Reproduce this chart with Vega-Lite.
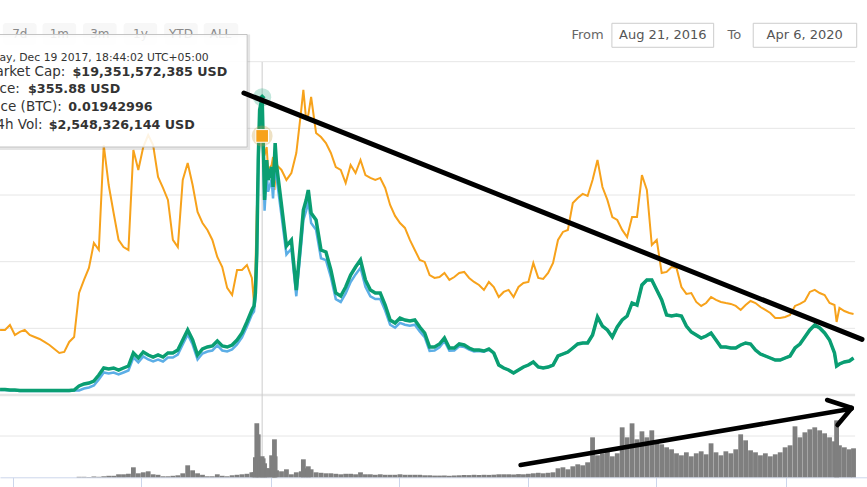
{
  "$schema": "https://vega.github.io/schema/vega-lite/v6.json",
  "width": 867,
  "height": 487,
  "autosize": {"type": "none"},
  "padding": 0,
  "background": "#ffffff",
  "config": {"view": {"stroke": null}, "text": {"font": "DejaVu Sans"}},
  "datasets": {
    "ltc": [
      {"date":"2016-12-13","btc":0.00488,"cap":0.358,"price":6.29,"vol":0},
      {"date":"2016-12-20","btc":0.00488,"cap":0.358,"price":6.29,"vol":0},
      {"date":"2016-12-27","btc":0.00525,"cap":0.325,"price":5.66,"vol":0},
      {"date":"2017-01-03","btc":0.0045,"cap":0.325,"price":5.66,"vol":0},
      {"date":"2017-01-10","btc":0.00473,"cap":0.293,"price":5.03,"vol":0},
      {"date":"2017-01-17","btc":0.00488,"cap":0.293,"price":5.03,"vol":0},
      {"date":"2017-01-24","btc":0.0045,"cap":0.293,"price":5.03,"vol":0},
      {"date":"2017-01-31","btc":0.00435,"cap":0.293,"price":5.03,"vol":0},
      {"date":"2017-02-07","btc":0.0042,"cap":0.293,"price":5.03,"vol":0},
      {"date":"2017-02-14","btc":0.00398,"cap":0.293,"price":5.03,"vol":0},
      {"date":"2017-02-21","btc":0.00375,"cap":0.293,"price":5.03,"vol":0},
      {"date":"2017-02-28","btc":0.00345,"cap":0.293,"price":5.03,"vol":0},
      {"date":"2017-03-07","btc":0.00315,"cap":0.293,"price":5.03,"vol":0},
      {"date":"2017-03-14","btc":0.00323,"cap":0.293,"price":5.03,"vol":0},
      {"date":"2017-03-21","btc":0.00398,"cap":0.293,"price":5.03,"vol":0},
      {"date":"2017-03-28","btc":0.00435,"cap":0.325,"price":5.66,"vol":0},
      {"date":"2017-04-04","btc":0.00765,"cap":0.585,"price":5.66,"vol":0.06},
      {"date":"2017-04-11","btc":0.00863,"cap":0.715,"price":8.17,"vol":0.06},
      {"date":"2017-04-18","btc":0.00953,"cap":0.78,"price":9.43,"vol":0.036},
      {"date":"2017-04-25","btc":0.0114,"cap":0.91,"price":11.95,"vol":0.097},
      {"date":"2017-05-02","btc":0.01088,"cap":1.3,"price":19.49,"vol":0.06},
      {"date":"2017-05-09","btc":0.01875,"cap":1.755,"price":28.29,"vol":0.121},
      {"date":"2017-05-16","btc":0.01575,"cap":1.69,"price":27.04,"vol":0.182},
      {"date":"2017-05-23","btc":0.01365,"cap":1.755,"price":28.29,"vol":0.182},
      {"date":"2017-05-30","btc":0.01163,"cap":1.625,"price":25.78,"vol":0.363},
      {"date":"2017-06-06","btc":0.0111,"cap":1.755,"price":28.29,"vol":0.363},
      {"date":"2017-06-13","btc":0.01088,"cap":1.885,"price":30.81,"vol":0.424},
      {"date":"2017-06-20","btc":0.01838,"cap":2.73,"price":47.16,"vol":1.21},
      {"date":"2017-06-27","btc":0.01688,"cap":2.405,"price":40.87,"vol":0.484},
      {"date":"2017-07-04","btc":0.0186,"cap":2.795,"price":48.41,"vol":0.605},
      {"date":"2017-07-11","btc":0.0195,"cap":2.6,"price":44.64,"vol":0.726},
      {"date":"2017-07-18","btc":0.01875,"cap":2.47,"price":42.13,"vol":0.363},
      {"date":"2017-07-25","btc":0.01635,"cap":2.6,"price":44.64,"vol":0.303},
      {"date":"2017-08-01","btc":0.01553,"cap":2.47,"price":42.13,"vol":0.121},
      {"date":"2017-08-08","btc":0.01463,"cap":2.73,"price":47.16,"vol":0.121},
      {"date":"2017-08-15","btc":0.01163,"cap":2.73,"price":47.16,"vol":0.182},
      {"date":"2017-08-22","btc":0.0111,"cap":2.925,"price":50.93,"vol":0.242},
      {"date":"2017-08-29","btc":0.01613,"cap":3.575,"price":63.5,"vol":0.484},
      {"date":"2017-09-05","btc":0.0174,"cap":4.225,"price":76.08,"vol":1.452},
      {"date":"2017-09-12","btc":0.01575,"cap":3.575,"price":63.5,"vol":0.847},
      {"date":"2017-09-19","btc":0.01373,"cap":2.6,"price":44.64,"vol":0.484},
      {"date":"2017-09-26","btc":0.0129,"cap":2.99,"price":52.19,"vol":0.303},
      {"date":"2017-10-03","btc":0.01238,"cap":3.12,"price":54.7,"vol":0.121},
      {"date":"2017-10-10","btc":0.01163,"cap":3.185,"price":55.96,"vol":0.121},
      {"date":"2017-10-17","btc":0.01035,"cap":3.51,"price":62.25,"vol":0.363},
      {"date":"2017-10-24","btc":0.0096,"cap":3.185,"price":55.96,"vol":0.182},
      {"date":"2017-10-31","btc":0.00803,"cap":3.12,"price":54.7,"vol":0.121},
      {"date":"2017-11-07","btc":0.0075,"cap":3.25,"price":57.22,"vol":0.242},
      {"date":"2017-11-14","btc":0.00938,"cap":3.575,"price":63.5,"vol":0.303},
      {"date":"2017-11-21","btc":0.00938,"cap":4.03,"price":72.31,"vol":0.363},
      {"date":"2017-11-28","btc":0.00975,"cap":4.745,"price":86.14,"vol":0.424},
      {"date":"2017-12-05","btc":0.00878,"cap":5.525,"price":101.23,"vol":0.605},
      {"date":"2017-12-08","btc":0.0069,"cap":5.785,"price":105.06,"vol":0.605},
      {"date":"2017-12-10","btc":0.00938,"cap":6.63,"price":120.6,"vol":2.42},
      {"date":"2017-12-12","btc":0.01388,"cap":9.23,"price":168.38,"vol":6.534},
      {"date":"2017-12-14","btc":0.01725,"cap":15.275,"price":279.48,"vol":5.203},
      {"date":"2017-12-16","btc":0.01913,"cap":18.525,"price":339.21,"vol":2.057},
      {"date":"2017-12-19T13:44:02Z","btc":0.01942996,"cap":19.351572385,"price":355.88,"vol":2.548326144},
      {"date":"2017-12-21","btc":0.01778,"cap":16.575,"price":303.37,"vol":2.299},
      {"date":"2017-12-23","btc":0.018,"cap":12.675,"price":231.69,"vol":1.694},
      {"date":"2017-12-26","btc":0.0186,"cap":15.275,"price":279.48,"vol":1.089},
      {"date":"2017-12-28","btc":0.01688,"cap":13.975,"price":255.59,"vol":1.089},
      {"date":"2018-01-02","btc":0.01725,"cap":14.82,"price":271.12,"vol":2.662},
      {"date":"2018-01-04","btc":0.01785,"cap":13.52,"price":247.22,"vol":1.452},
      {"date":"2018-01-06","btc":0.01538,"cap":15.275,"price":279.48,"vol":4.598},
      {"date":"2018-01-07","btc":0.01613,"cap":16.38,"price":299.79,"vol":2.541},
      {"date":"2018-01-09","btc":0.01725,"cap":14.95,"price":273.51,"vol":0.847},
      {"date":"2018-01-16","btc":0.01688,"cap":12.35,"price":225.72,"vol":0.726},
      {"date":"2018-01-23","btc":0.01613,"cap":9.685,"price":176.74,"vol":0.968},
      {"date":"2018-01-30","btc":0.01665,"cap":10.075,"price":183.91,"vol":0.363},
      {"date":"2018-02-06","btc":0.01815,"cap":6.825,"price":124.18,"vol":0.605},
      {"date":"2018-02-13","btc":0.02138,"cap":10.4,"price":189.88,"vol":0.726},
      {"date":"2018-02-16","btc":0.02288,"cap":12.025,"price":219.75,"vol":2.178},
      {"date":"2018-02-20","btc":0.02063,"cap":12.675,"price":231.69,"vol":1.089},
      {"date":"2018-02-23","btc":0.021,"cap":13.325,"price":243.64,"vol":1.331},
      {"date":"2018-02-27","btc":0.02235,"cap":11.83,"price":216.16,"vol":0.968},
      {"date":"2018-03-06","btc":0.01965,"cap":11.375,"price":207.8,"vol":0.605},
      {"date":"2018-03-13","btc":0.01935,"cap":9.425,"price":171.96,"vol":0.545},
      {"date":"2018-03-20","btc":0.0189,"cap":9.295,"price":169.57,"vol":0.484},
      {"date":"2018-03-27","btc":0.01815,"cap":8.125,"price":148.07,"vol":0.484},
      {"date":"2018-04-03","btc":0.0171,"cap":6.63,"price":120.6,"vol":0.424},
      {"date":"2018-04-10","btc":0.01688,"cap":6.435,"price":117.01,"vol":0.363},
      {"date":"2018-04-17","btc":0.0159,"cap":7.02,"price":127.76,"vol":0.424},
      {"date":"2018-04-24","btc":0.01725,"cap":7.8,"price":142.1,"vol":0.424},
      {"date":"2018-05-01","btc":0.01665,"cap":8.32,"price":151.65,"vol":0.363},
      {"date":"2018-05-08","btc":0.01763,"cap":8.775,"price":160.02,"vol":0.605},
      {"date":"2018-05-15","btc":0.0165,"cap":7.475,"price":136.12,"vol":0.363},
      {"date":"2018-05-22","btc":0.01628,"cap":6.825,"price":124.18,"vol":0.363},
      {"date":"2018-05-29","btc":0.01613,"cap":6.63,"price":120.6,"vol":0.303},
      {"date":"2018-06-05","btc":0.01628,"cap":6.63,"price":120.6,"vol":0.363},
      {"date":"2018-06-12","btc":0.01553,"cap":5.85,"price":106.26,"vol":0.303},
      {"date":"2018-06-19","btc":0.01425,"cap":4.875,"price":88.34,"vol":0.303},
      {"date":"2018-06-26","btc":0.01343,"cap":4.68,"price":84.76,"vol":0.303},
      {"date":"2018-07-03","btc":0.0129,"cap":5.005,"price":90.73,"vol":0.363},
      {"date":"2018-07-10","btc":0.01253,"cap":4.875,"price":88.34,"vol":0.303},
      {"date":"2018-07-17","btc":0.01163,"cap":4.81,"price":87.14,"vol":0.303},
      {"date":"2018-07-24","btc":0.01088,"cap":4.875,"price":88.34,"vol":0.303},
      {"date":"2018-07-31","btc":0.01013,"cap":4.42,"price":79.98,"vol":0.303},
      {"date":"2018-08-07","btc":0.00998,"cap":4.03,"price":72.81,"vol":0.242},
      {"date":"2018-08-14","btc":0.009,"cap":3.12,"price":55.52,"vol":0.242},
      {"date":"2018-08-21","btc":0.00878,"cap":3.12,"price":55.83,"vol":0.206},
      {"date":"2018-08-28","btc":0.00885,"cap":3.315,"price":59.98,"vol":0.206},
      {"date":"2018-09-04","btc":0.00915,"cap":3.705,"price":67.91,"vol":0.218},
      {"date":"2018-09-11","btc":0.00863,"cap":3.055,"price":55.64,"vol":0.182},
      {"date":"2018-09-18","btc":0.00885,"cap":3.055,"price":55.96,"vol":0.218},
      {"date":"2018-09-25","btc":0.00915,"cap":3.315,"price":61.37,"vol":0.242},
      {"date":"2018-10-02","btc":0.00923,"cap":3.25,"price":60.49,"vol":0.278},
      {"date":"2018-10-09","btc":0.00878,"cap":3.055,"price":57.03,"vol":0.266},
      {"date":"2018-10-16","btc":0.00848,"cap":2.925,"price":54.83,"vol":0.303},
      {"date":"2018-10-23","btc":0.00825,"cap":2.925,"price":55.2,"vol":0.278},
      {"date":"2018-10-30","btc":0.00788,"cap":2.86,"price":54.32,"vol":0.303},
      {"date":"2018-11-06","btc":0.00848,"cap":2.99,"price":57.15,"vol":0.29},
      {"date":"2018-11-13","btc":0.0081,"cap":2.73,"price":52.44,"vol":0.315},
      {"date":"2018-11-20","btc":0.00735,"cap":1.95,"price":37.72,"vol":0.363},
      {"date":"2018-11-27","btc":0.00773,"cap":1.755,"price":33.95,"vol":0.363},
      {"date":"2018-12-04","btc":0.00788,"cap":1.625,"price":31.44,"vol":0.363},
      {"date":"2018-12-11","btc":0.00735,"cap":1.43,"price":27.66,"vol":0.339},
      {"date":"2018-12-18","btc":0.0081,"cap":1.625,"price":31.44,"vol":0.387},
      {"date":"2018-12-25","btc":0.0084,"cap":1.82,"price":35.21,"vol":0.363},
      {"date":"2019-01-01","btc":0.00848,"cap":1.95,"price":37.72,"vol":0.424},
      {"date":"2019-01-08","btc":0.0099,"cap":2.145,"price":41.5,"vol":0.484},
      {"date":"2019-01-15","btc":0.00878,"cap":1.82,"price":35.21,"vol":0.545},
      {"date":"2019-01-22","btc":0.0087,"cap":1.755,"price":33.95,"vol":0.484},
      {"date":"2019-01-29","btc":0.00915,"cap":1.82,"price":35.21,"vol":0.545},
      {"date":"2019-02-05","btc":0.0099,"cap":1.95,"price":37.72,"vol":0.605},
      {"date":"2019-02-12","btc":0.01163,"cap":2.535,"price":49.04,"vol":1.089},
      {"date":"2019-02-19","btc":0.01223,"cap":2.665,"price":51.56,"vol":1.21},
      {"date":"2019-02-26","btc":0.01238,"cap":2.795,"price":54.07,"vol":0.968},
      {"date":"2019-03-05","btc":0.0144,"cap":3.055,"price":59.1,"vol":1.331},
      {"date":"2019-03-12","btc":0.01478,"cap":3.315,"price":64.13,"vol":1.573},
      {"date":"2019-03-19","btc":0.01508,"cap":3.38,"price":65.39,"vol":1.452},
      {"date":"2019-03-26","btc":0.01493,"cap":3.38,"price":65.39,"vol":1.815},
      {"date":"2019-04-02","btc":0.01613,"cap":3.9,"price":75.45,"vol":4.84},
      {"date":"2019-04-09","btc":0.01763,"cap":5.07,"price":98.08,"vol":2.662},
      {"date":"2019-04-16","btc":0.0156,"cap":4.485,"price":86.77,"vol":2.904},
      {"date":"2019-04-23","btc":0.01463,"cap":4.225,"price":81.74,"vol":3.146},
      {"date":"2019-04-30","btc":0.01335,"cap":3.77,"price":72.93,"vol":2.541},
      {"date":"2019-05-07","btc":0.01313,"cap":4.42,"price":85.51,"vol":2.904},
      {"date":"2019-05-14","btc":0.01238,"cap":4.875,"price":94.31,"vol":6.05},
      {"date":"2019-05-21","btc":0.01185,"cap":5.135,"price":99.34,"vol":4.84},
      {"date":"2019-05-28","btc":0.01335,"cap":5.98,"price":115.69,"vol":6.534},
      {"date":"2019-06-04","btc":0.01335,"cap":5.85,"price":113.17,"vol":4.598},
      {"date":"2019-06-11","btc":0.0165,"cap":7.15,"price":138.32,"vol":5.566},
      {"date":"2019-06-18","btc":0.01538,"cap":7.475,"price":144.61,"vol":4.84},
      {"date":"2019-06-25","btc":0.01125,"cap":7.475,"price":144.61,"vol":5.687},
      {"date":"2019-07-02","btc":0.01163,"cap":6.825,"price":132.04,"vol":4.356},
      {"date":"2019-07-09","btc":0.00915,"cap":6.175,"price":119.46,"vol":3.993},
      {"date":"2019-07-16","btc":0.00923,"cap":5.2,"price":100.6,"vol":3.63},
      {"date":"2019-07-23","btc":0.0096,"cap":5.135,"price":99.34,"vol":3.388},
      {"date":"2019-07-30","btc":0.00953,"cap":5.2,"price":100.6,"vol":2.904},
      {"date":"2019-08-06","btc":0.0081,"cap":5.135,"price":99.34,"vol":2.662},
      {"date":"2019-08-13","btc":0.00758,"cap":4.485,"price":86.77,"vol":3.025},
      {"date":"2019-08-20","btc":0.00765,"cap":4.095,"price":79.22,"vol":2.541},
      {"date":"2019-08-27","btc":0.00698,"cap":3.9,"price":75.45,"vol":2.904},
      {"date":"2019-09-03","btc":0.00668,"cap":3.705,"price":71.67,"vol":3.146},
      {"date":"2019-09-10","btc":0.0069,"cap":3.835,"price":74.19,"vol":2.783},
      {"date":"2019-09-17","btc":0.00735,"cap":4.03,"price":77.96,"vol":4.114},
      {"date":"2019-09-24","btc":0.00713,"cap":3.575,"price":69.16,"vol":3.025},
      {"date":"2019-10-01","btc":0.00698,"cap":3.12,"price":60.36,"vol":2.662},
      {"date":"2019-10-08","btc":0.0069,"cap":3.12,"price":60.36,"vol":3.146},
      {"date":"2019-10-15","btc":0.00683,"cap":3.055,"price":59.1,"vol":2.904},
      {"date":"2019-10-22","btc":0.00668,"cap":3.055,"price":59.1,"vol":3.388},
      {"date":"2019-10-29","btc":0.00638,"cap":3.25,"price":62.87,"vol":5.203},
      {"date":"2019-11-05","btc":0.00675,"cap":3.38,"price":65.39,"vol":4.477},
      {"date":"2019-11-12","btc":0.00705,"cap":3.315,"price":64.13,"vol":3.267},
      {"date":"2019-11-19","btc":0.0069,"cap":2.925,"price":56.59,"vol":3.025},
      {"date":"2019-11-26","btc":0.0066,"cap":2.665,"price":51.56,"vol":2.662},
      {"date":"2019-12-03","btc":0.00638,"cap":2.535,"price":49.04,"vol":2.904},
      {"date":"2019-12-10","btc":0.00615,"cap":2.405,"price":46.53,"vol":2.541},
      {"date":"2019-12-17","btc":0.00578,"cap":2.275,"price":44.01,"vol":2.783},
      {"date":"2019-12-24","btc":0.00578,"cap":2.275,"price":44.01,"vol":3.025},
      {"date":"2019-12-31","btc":0.00585,"cap":2.405,"price":46.53,"vol":3.63},
      {"date":"2020-01-07","btc":0.006,"cap":2.535,"price":49.04,"vol":3.872},
      {"date":"2020-01-14","btc":0.00668,"cap":3.055,"price":59.1,"vol":6.171},
      {"date":"2020-01-21","btc":0.00683,"cap":3.315,"price":64.13,"vol":4.84},
      {"date":"2020-01-28","btc":0.00705,"cap":3.77,"price":72.93,"vol":5.445},
      {"date":"2020-02-04","btc":0.00773,"cap":4.225,"price":81.74,"vol":5.808},
      {"date":"2020-02-11","btc":0.00788,"cap":4.55,"price":88.02,"vol":6.05},
      {"date":"2020-02-18","btc":0.00765,"cap":4.355,"price":84.25,"vol":5.687},
      {"date":"2020-02-25","btc":0.0075,"cap":4.03,"price":77.96,"vol":5.324},
      {"date":"2020-03-03","btc":0.0069,"cap":3.575,"price":69.16,"vol":4.84},
      {"date":"2020-03-10","btc":0.00675,"cap":2.73,"price":52.81,"vol":4.356},
      {"date":"2020-03-13","btc":0.00548,"cap":1.885,"price":36.47,"vol":6.897},
      {"date":"2020-03-17","btc":0.00653,"cap":2.015,"price":38.98,"vol":3.872},
      {"date":"2020-03-24","btc":0.0063,"cap":2.145,"price":41.5,"vol":3.63},
      {"date":"2020-03-31","btc":0.00615,"cap":2.21,"price":42.75,"vol":3.388},
      {"date":"2020-04-06","btc":0.00608,"cap":2.405,"price":46.53,"vol":3.509}
    ],
    "hover": [{"date":"2017-12-19T13:44:02Z","btc":0.01942996,"cap":19.351572385,"price":355.88,"vol":2.548326144}],
    "grid": [
      {"date":"2016-12-01","date2":"2020-04-08T05:00:00Z","btc":0},
      {"date":"2016-12-01","date2":"2020-04-08T05:00:00Z","btc":0.005},
      {"date":"2016-12-01","date2":"2020-04-08T05:00:00Z","btc":0.01},
      {"date":"2016-12-01","date2":"2020-04-08T05:00:00Z","btc":0.015},
      {"date":"2016-12-01","date2":"2020-04-08T05:00:00Z","btc":0.02},
      {"date":"2016-12-01","date2":"2020-04-08T05:00:00Z","btc":0.025}
    ],
    "vgrid": [{"date":"2016-12-01","date2":"2020-04-08T05:00:00Z","vol":5}],
    "buttons": [
      {"label":"7d","date":"2016-12-17","date2":"2017-02-02T19:00:00Z"},
      {"label":"1m","date":"2017-02-11T06:00:00Z","date2":"2017-03-30T22:00:00Z"},
      {"label":"3m","date":"2017-04-09T17:00:00Z","date2":"2017-05-27T07:00:00Z"},
      {"label":"1y","date":"2017-06-06T05:00:00Z","date2":"2017-07-23T19:00:00Z"},
      {"label":"YTD","date":"2017-08-02T14:00:00Z","date2":"2017-09-19T07:00:00Z"},
      {"label":"ALL","date":"2017-09-27T17:00:00Z","date2":"2017-11-15T17:00:00Z"}
    ],
    "buttonLabels": [
      {"label":"7d","date":"2017-01-10"},
      {"label":"1m","date":"2017-03-07T02:00:00Z"},
      {"label":"3m","date":"2017-05-03T12:00:00Z"},
      {"label":"1y","date":"2017-06-30"},
      {"label":"YTD","date":"2017-08-26T10:00:00Z"},
      {"label":"ALL","date":"2017-10-21T12:00:00Z"}
    ],
    "tipBox": [{"date":"2016-12-01","date2":"2017-11-28T07:00:00Z"}],
    "tipShadow": [{"date":"2016-12-01","date2":"2017-11-30T10:00:00Z"}],
    "tipHeader": [{"text":"Tuesday, Dec 19 2017, 18:44:02 UTC+05:00","date":"2017-10-04T17:00:00Z","btc":0.025298}],
    "tipLabels": [
      {"text":"Market Cap:","date":"2017-03-15T12:00:00Z","btc":0.024203},
      {"text":"Price:","date":"2017-01-10","btc":0.022928},
      {"text":"Price (BTC):","date":"2017-03-10T14:00:00Z","btc":0.0216},
      {"text":"24h Vol:","date":"2017-02-11T06:00:00Z","btc":0.02025}
    ],
    "tipValues": [
      {"text":"$19,351,572,385 USD","date":"2017-03-25T17:00:00Z","btc":0.024203},
      {"text":"$355.88 USD","date":"2017-01-21T16:00:00Z","btc":0.022928},
      {"text":"0.01942996","date":"2017-03-19T17:00:00Z","btc":0.0216},
      {"text":"$2,548,326,144 USD","date":"2017-02-20T02:00:00Z","btc":0.02025}
    ],
    "rangeBoxes": [
      {"date":"2019-04-29T10:00:00Z","date2":"2019-09-20T17:00:00Z"},
      {"date":"2019-11-15T19:00:00Z","date2":"2020-04-10T12:00:00Z"}
    ],
    "rangeLabels": [
      {"text":"From","date":"2019-03-03"},
      {"text":"To","date":"2019-10-10T10:00:00Z"}
    ],
    "rangeValues": [
      {"text":"Aug 21, 2016","date":"2019-07-10T14:00:00Z"},
      {"text":"Apr 6, 2020","date":"2020-01-27T17:00:00Z"}
    ],
    "trend": [{"date":"2017-11-23T17:00:00Z","date2":"2020-04-18","btc":0.02265,"btc2":0.00417}],
    "arrow": [
      {"date":"2018-12-21","date2":"2020-04-03T00:00:00Z","vol":1.489,"vol2":8.3},
      {"date":"2020-02-28T12:00:00Z","date2":"2020-04-03T12:00:00Z","vol":9.358,"vol2":8.39},
      {"date":"2020-04-03T12:00:00Z","date2":"2020-03-14T07:00:00Z","vol":8.39,"vol2":6.332}
    ]
  },
  "encoding": {
    "x": {
      "field": "date",
      "type": "temporal",
      "scale": {"domain": [{"year":2016,"month":12,"date":20,"utc":true},{"year":2020,"month":4,"date":18,"utc":true}]},
      "axis": {
        "orient": "bottom",
        "offset": -9.7,
        "values": [
          {"year":2017,"month":1,"date":1,"utc":true},
          {"year":2017,"month":7,"date":1,"utc":true},
          {"year":2018,"month":1,"date":1,"utc":true},
          {"year":2018,"month":7,"date":1,"utc":true},
          {"year":2019,"month":1,"date":1,"utc":true},
          {"year":2019,"month":7,"date":1,"utc":true},
          {"year":2020,"month":1,"date":1,"utc":true}
        ],
        "labels": false,
        "title": null,
        "grid": false,
        "tickSize": 10,
        "tickColor": "#ccd6eb",
        "tickWidth": 1,
        "domainColor": "#ccd6eb",
        "domainWidth": 1
      }
    }
  },
  "layer": [
    {
      "data": {"name": "grid"},
      "mark": {"type": "rule", "color": "#e6e6e6", "clip": true},
      "encoding": {
        "x2": {"field": "date2"},
        "y": {"field": "btc", "type": "quantitative", "scale": {"domain": [-0.0069, 0.029625], "nice": false, "zero": false}, "axis": null},
        "strokeWidth": {"condition": {"test": "datum.btc == 0", "value": 2.5}, "value": 1}
      }
    },
    {
      "data": {"name": "vgrid"},
      "mark": {"type": "rule", "color": "#e6e6e6", "strokeWidth": 1, "clip": true},
      "encoding": {
        "x2": {"field": "date2"},
        "y": {"field": "vol", "type": "quantitative", "scale": {"domain": [-1.1743, 57.7845], "nice": false, "zero": false}, "axis": null}
      }
    },
    {
      "data": {"name": "hover"},
      "mark": {"type": "rule", "color": "#cccccc", "strokeWidth": 1},
      "encoding": {
        "y": {"datum": 50.28, "type": "quantitative", "scale": {"domain": [-1.1743, 57.7845], "nice": false, "zero": false}, "axis": null},
        "y2": {"datum": 0}
      }
    },
    {
      "data": {"name": "ltc"},
      "mark": {"type": "bar", "color": "#7f7f7f", "size": 4.8, "clip": true},
      "encoding": {
        "y": {"field": "vol", "type": "quantitative", "scale": {"domain": [-1.1743, 57.7845], "nice": false, "zero": false}, "axis": null},
        "y2": {"datum": 0}
      }
    },
    {
      "data": {"name": "ltc"},
      "mark": {"type": "line", "color": "#f7a21b", "strokeWidth": 2, "clip": true},
      "encoding": {
        "y": {"field": "btc", "type": "quantitative", "scale": {"domain": [-0.0069, 0.029625], "nice": false, "zero": false}, "axis": null}
      }
    },
    {
      "data": {"name": "ltc"},
      "mark": {"type": "line", "color": "#5caee6", "strokeWidth": 2.5, "clip": true},
      "encoding": {
        "y": {"field": "price", "type": "quantitative", "scale": {"domain": [-115.69, 496.71], "nice": false, "zero": false}, "axis": null}
      }
    },
    {
      "data": {"name": "ltc"},
      "mark": {"type": "line", "color": "#0a9e72", "strokeWidth": 3.5, "clip": true},
      "encoding": {
        "y": {"field": "cap", "type": "quantitative", "scale": {"domain": [-5.98, 25.675], "nice": false, "zero": false}, "axis": null}
      }
    },
    {
      "data": {"name": "hover"},
      "mark": {"type": "point", "shape": "circle", "filled": true, "size": 330, "color": "#0a9e72", "opacity": 0.25},
      "encoding": {
        "y": {"field": "cap", "type": "quantitative", "scale": {"domain": [-5.98, 25.675], "nice": false, "zero": false}, "axis": null}
      }
    },
    {
      "data": {"name": "hover"},
      "mark": {"type": "point", "shape": "diamond", "filled": true, "size": 45, "color": "#0a9e72", "opacity": 1},
      "encoding": {
        "y": {"field": "cap", "type": "quantitative", "scale": {"domain": [-5.98, 25.675], "nice": false, "zero": false}, "axis": null}
      }
    },
    {
      "data": {"name": "hover"},
      "mark": {"type": "point", "shape": "circle", "filled": true, "size": 440, "color": "#c89a3c", "opacity": 0.3},
      "encoding": {
        "y": {"field": "btc", "type": "quantitative", "scale": {"domain": [-0.0069, 0.029625], "nice": false, "zero": false}, "axis": null}
      }
    },
    {
      "data": {"name": "hover"},
      "mark": {"type": "point", "shape": "square", "filled": true, "size": 160, "color": "#f7a21b", "stroke": "#ffffff", "strokeWidth": 1, "opacity": 1},
      "encoding": {
        "y": {"field": "btc", "type": "quantitative", "scale": {"domain": [-0.0069, 0.029625], "nice": false, "zero": false}, "axis": null}
      }
    },
    {
      "data": {"name": "buttons"},
      "mark": {"type": "rect", "fill": "#f7f7f7", "cornerRadius": 3, "clip": true},
      "encoding": {
        "x2": {"field": "date2"},
        "y": {"datum": 0.0279, "type": "quantitative", "scale": {"domain": [-0.0069, 0.029625], "nice": false, "zero": false}, "axis": null},
        "y2": {"datum": 0.02625}
      }
    },
    {
      "data": {"name": "buttonLabels"},
      "mark": {"type": "text", "color": "#8a8a8a", "fontSize": 12, "align": "center", "baseline": "middle", "clip": true},
      "encoding": {
        "y": {"datum": 0.02707, "type": "quantitative", "scale": {"domain": [-0.0069, 0.029625], "nice": false, "zero": false}, "axis": null},
        "text": {"field": "label"}
      }
    },
    {
      "data": {"name": "tipShadow"},
      "mark": {"type": "rect", "fillOpacity": 0, "stroke": "#000000", "strokeOpacity": 0.1, "strokeWidth": 3, "clip": true},
      "encoding": {
        "x2": {"field": "date2"},
        "y": {"datum": 0.026925, "type": "quantitative", "scale": {"domain": [-0.0069, 0.029625], "nice": false, "zero": false}, "axis": null},
        "y2": {"datum": 0.018488}
      }
    },
    {
      "data": {"name": "tipBox"},
      "mark": {"type": "rect", "fill": "#ffffff", "fillOpacity": 0.88, "stroke": "#c4c4c4", "strokeWidth": 1, "clip": true},
      "encoding": {
        "x2": {"field": "date2"},
        "y": {"datum": 0.027038, "type": "quantitative", "scale": {"domain": [-0.0069, 0.029625], "nice": false, "zero": false}, "axis": null},
        "y2": {"datum": 0.0186}
      }
    },
    {
      "data": {"name": "tipHeader"},
      "mark": {"type": "text", "color": "#333333", "fontSize": 10.8, "align": "right", "baseline": "middle", "clip": true},
      "encoding": {
        "y": {"field": "btc", "type": "quantitative", "scale": {"domain": [-0.0069, 0.029625], "nice": false, "zero": false}, "axis": null},
        "text": {"field": "text"}
      }
    },
    {
      "data": {"name": "tipLabels"},
      "mark": {"type": "text", "color": "#333333", "fontSize": 13.5, "align": "right", "baseline": "middle", "clip": true},
      "encoding": {
        "y": {"field": "btc", "type": "quantitative", "scale": {"domain": [-0.0069, 0.029625], "nice": false, "zero": false}, "axis": null},
        "text": {"field": "text"}
      }
    },
    {
      "data": {"name": "tipValues"},
      "mark": {"type": "text", "color": "#333333", "fontSize": 12.7, "fontWeight": "bold", "align": "left", "baseline": "middle", "clip": true},
      "encoding": {
        "y": {"field": "btc", "type": "quantitative", "scale": {"domain": [-0.0069, 0.029625], "nice": false, "zero": false}, "axis": null},
        "text": {"field": "text"}
      }
    },
    {
      "data": {"name": "rangeBoxes"},
      "mark": {"type": "rect", "fill": "#ffffff", "stroke": "#cccccc", "strokeWidth": 1, "clip": true},
      "encoding": {
        "x2": {"field": "date2"},
        "y": {"datum": 0.027878, "type": "quantitative", "scale": {"domain": [-0.0069, 0.029625], "nice": false, "zero": false}, "axis": null},
        "y2": {"datum": 0.026078}
      }
    },
    {
      "data": {"name": "rangeLabels"},
      "mark": {"type": "text", "color": "#666666", "fontSize": 13, "align": "left", "baseline": "middle", "clip": true},
      "encoding": {
        "y": {"datum": 0.026963, "type": "quantitative", "scale": {"domain": [-0.0069, 0.029625], "nice": false, "zero": false}, "axis": null},
        "text": {"field": "text"}
      }
    },
    {
      "data": {"name": "rangeValues"},
      "mark": {"type": "text", "color": "#555555", "fontSize": 13, "align": "center", "baseline": "middle", "clip": true},
      "encoding": {
        "y": {"datum": 0.026963, "type": "quantitative", "scale": {"domain": [-0.0069, 0.029625], "nice": false, "zero": false}, "axis": null},
        "text": {"field": "text"}
      }
    },
    {
      "data": {"name": "trend"},
      "mark": {"type": "rule", "color": "#000000", "strokeWidth": 5, "strokeCap": "round", "clip": true},
      "encoding": {
        "x2": {"field": "date2"},
        "y": {"field": "btc", "type": "quantitative", "scale": {"domain": [-0.0069, 0.029625], "nice": false, "zero": false}, "axis": null},
        "y2": {"field": "btc2"}
      }
    },
    {
      "data": {"name": "arrow"},
      "mark": {"type": "rule", "color": "#000000", "strokeWidth": 4.5, "strokeCap": "round", "clip": true},
      "encoding": {
        "x2": {"field": "date2"},
        "y": {"field": "vol", "type": "quantitative", "scale": {"domain": [-1.1743, 57.7845], "nice": false, "zero": false}, "axis": null},
        "y2": {"field": "vol2"}
      }
    }
  ],
  "resolve": {"scale": {"y": "independent"}}
}
